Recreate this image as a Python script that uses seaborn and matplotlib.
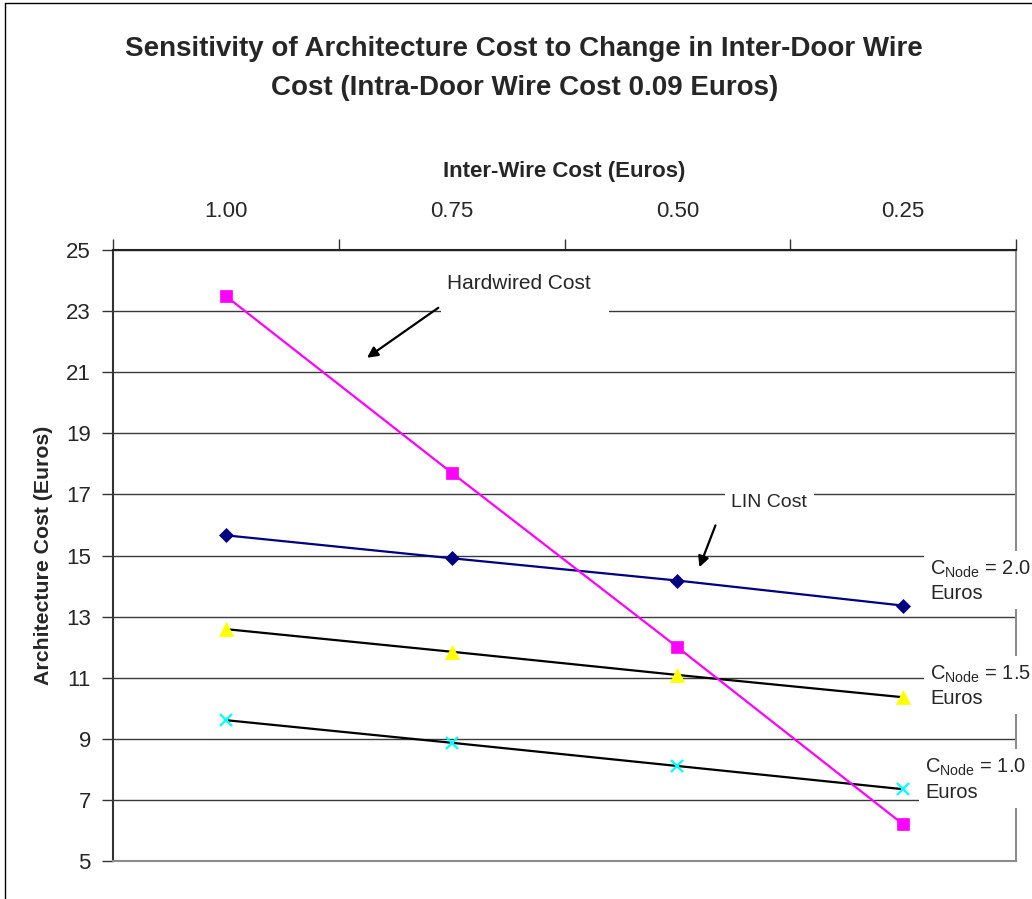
import numpy as np
import matplotlib
matplotlib.use('Agg')
import matplotlib.pyplot as plt
from matplotlib.lines import Line2D
from matplotlib.patches import Rectangle
import seaborn as sns

# values
wire_cost = ['1.00', '0.75', '0.50', '0.25']
hardwired = [23.49, 17.71, 12.00, 6.20]
lin_node_20 = [15.66, 14.91, 14.18, 13.36]
lin_node_15 = [12.59, 11.85, 11.09, 10.36]
lin_node_10 = [9.61, 8.87, 8.11, 7.35]
y_ticks = [5, 7, 9, 11, 13, 15, 17, 19, 21, 23, 25]

sns.set_theme(style='white')
plt.rcParams['font.family'] = ['Liberation Sans', 'DejaVu Sans']
plt.rcParams['mathtext.default'] = 'regular'

fig = plt.figure(figsize=(10.32, 8.99), dpi=100)
ax = fig.add_axes([113 / 1032, 1 - 861 / 899, 903 / 1032, 611 / 899])

pos = np.arange(len(wire_cost))

series = [
    (lin_node_10, 'black', 'x', '#00FFFF', 9),
    (lin_node_15, 'black', '^', '#FFFF00', 9.5),
    (lin_node_20, '#000080', 'D', '#000080', 7.5),
    (hardwired, '#FF00FF', 's', '#FF00FF', 8),
]
for vals, lc, mk, mc, ms in series:
    sns.lineplot(x=pos, y=vals, ax=ax, color=lc, linewidth=1.6, marker=mk,
                 markersize=ms, markerfacecolor=mc, markeredgecolor=mc,
                 markeredgewidth=1.6 if mk == 'x' else 0.5, zorder=3)

ax.set_xlim(-0.5, len(wire_cost) - 0.5)
ax.set_ylim(5, 25)
ax.set_yticks(y_ticks)
ax.yaxis.grid(True, color='#3a3a3a', linewidth=1)
ax.xaxis.grid(False)
ax.set_axisbelow(True)

# x axis on top, labels centred in categories, ticks on boundaries
ax.xaxis.set_ticks_position('top')
ax.set_xticks(np.arange(-0.5, len(wire_cost), 1))
ax.set_xticklabels([''] * (len(wire_cost) + 1))
ax.set_xticks(pos, labels=wire_cost, minor=True)
ax.tick_params(axis='x', which='major', direction='out', length=8, width=1, color='#333333')
ax.tick_params(axis='x', which='minor', length=0, pad=20, labelsize=16, labeltop=True, labelbottom=False)
ax.tick_params(axis='y', direction='out', length=8, width=1, color='#333333', pad=8, labelsize=16, left=True)

ax.xaxis.set_label_position('top')
ax.set_xlabel('Inter-Wire Cost (Euros)', fontsize=16, fontweight='bold')
ax.xaxis.set_label_coords(0.4994, 1.129)
ax.xaxis.label.set_va('center')
ax.set_ylabel('Architecture Cost (Euros)', fontsize=15.3, fontweight='bold')
ax.yaxis.set_label_coords(-0.077, 0.5)
ax.yaxis.label.set_va('center')

for side in ['top', 'left', 'right', 'bottom']:
    ax.spines[side].set_visible(True)
    ax.spines[side].set_linewidth(1.5)
ax.spines['top'].set_color('#222222')
ax.spines['left'].set_color('#333333')
ax.spines['right'].set_color('#8c8c8c')
ax.spines['bottom'].set_color('#8c8c8c')

# annotations (white text boxes hide the gridlines behind them)
ax.add_patch(Rectangle((0.951, 22.75), 0.744, 1.95, facecolor='white', edgecolor='none', zorder=4))
ax.text(1.30, 23.9, 'Hardwired Cost', fontsize=15, ha='center', va='center', zorder=5)
ax.annotate('', xy=(0.615, 21.42), xytext=(0.951, 23.16),
            arrowprops=dict(arrowstyle='-|>', color='black', lw=1.6, mutation_scale=16), zorder=6)

box2 = dict(boxstyle='square,pad=0.35', facecolor='white', edgecolor='none')
ax.text(2.407, 16.73, 'LIN Cost', fontsize=14, ha='center', va='center', bbox=box2, zorder=5)
ax.annotate('', xy=(2.093, 14.53), xytext=(2.173, 16.07),
            arrowprops=dict(arrowstyle='-|>', color='black', lw=1.6, mutation_scale=16), zorder=6)

box3 = dict(boxstyle='square,pad=0.3', facecolor='white', edgecolor='none')
for x, y, lab in [(3.119, 14.17, '2.0'), (3.119, 10.73, '1.5'), (3.097, 7.68, '1.0')]:
    ax.text(x, y, 'C$_{Node}$ = ' + lab + '\nEuros', fontsize=14.5, ha='left', va='center',
            linespacing=1.3, bbox=box3, zorder=5, clip_on=False)

# title
fig.text(0.508, 0.924, 'Sensitivity of Architecture Cost to Change in Inter-Door Wire\n'
         'Cost (Intra-Door Wire Cost 0.09 Euros)', ha='center', va='center',
         fontsize=20, fontweight='bold', linespacing=1.68)

# outer chart frame (top and left edges visible)
fig.add_artist(Line2D([0.005, 0.005], [0, 0.9967], transform=fig.transFigure, color='black', lw=1))
fig.add_artist(Line2D([0.005, 1], [0.9967, 0.9967], transform=fig.transFigure, color='black', lw=1))

fig.savefig('out.png', dpi=100)
